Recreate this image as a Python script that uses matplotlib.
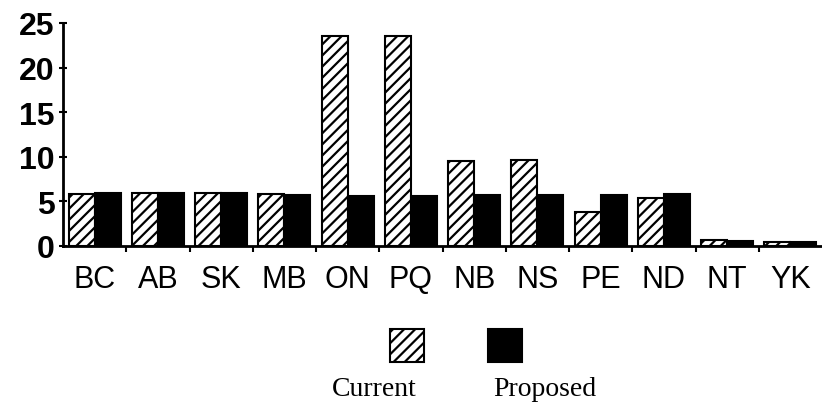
import matplotlib
matplotlib.use('Agg')
import matplotlib.pyplot as plt
from matplotlib.patches import Rectangle
import numpy as np

provinces = ['BC', 'AB', 'SK', 'MB', 'ON', 'PQ', 'NB', 'NS', 'PE', 'ND', 'NT', 'YK']
current = [5.8, 5.9, 5.9, 5.8, 23.5, 23.5, 9.5, 9.6, 3.8, 5.4, 0.7, 0.5]
proposed = [5.9, 5.9, 5.9, 5.7, 5.6, 5.6, 5.7, 5.7, 5.7, 5.8, 0.6, 0.4]
yticks = [0, 5, 10, 15, 20, 25]
legend_labels = ['Current', 'Proposed']

plt.rcParams['hatch.linewidth'] = 1.6

fig = plt.figure(figsize=(8.22, 4.14), dpi=100)
ax = fig.add_axes([63 / 822, 167 / 414, 759 / 822, 223 / 414])

x = np.arange(len(provinces))
w = 0.41
ax.bar(x - w / 2, current, w, facecolor='white', edgecolor='black',
       hatch='///', linewidth=1.5)
ax.bar(x + w / 2, proposed, w, facecolor='black', edgecolor='black', linewidth=1.5)

ax.set_xlim(-0.5, len(provinces) - 0.5)
ax.set_ylim(0, 25)
ax.set_yticks(yticks)
ax.set_yticklabels([str(t) for t in yticks], fontsize=23, fontweight='bold',
                   family='Liberation Sans')
ax.set_xticks(x)
ax.set_xticklabels(provinces, fontsize=22, family='Liberation Sans')
ax.set_xticks(np.arange(len(provinces) - 1) + 0.5, minor=True)
ax.tick_params(axis='x', which='major', length=0, pad=13)
ax.tick_params(axis='x', which='minor', length=4, width=1.5, direction='out')
ax.tick_params(axis='y', length=6, width=1.5, direction='inout', pad=3)

for s in ['top', 'right']:
    ax.spines[s].set_visible(False)
for s in ['left', 'bottom']:
    ax.spines[s].set_linewidth(2)

# legend: swatches above labels
fig.add_artist(Rectangle((390 / 822, 1 - 363 / 414), 34 / 822, 33 / 414,
                         transform=fig.transFigure, facecolor='white',
                         edgecolor='black', hatch='///', linewidth=1.5))
fig.add_artist(Rectangle((488 / 822, 1 - 363 / 414), 34 / 822, 33 / 414,
                         transform=fig.transFigure, facecolor='black',
                         edgecolor='black', linewidth=1.5))
fig.text(374 / 822, 1 - 390 / 414, legend_labels[0], ha='center', va='center',
         fontsize=20, family='Liberation Serif')
fig.text(545 / 822, 1 - 390 / 414, legend_labels[1], ha='center', va='center',
         fontsize=20, family='Liberation Serif')

fig.savefig('out.png', dpi=100)
